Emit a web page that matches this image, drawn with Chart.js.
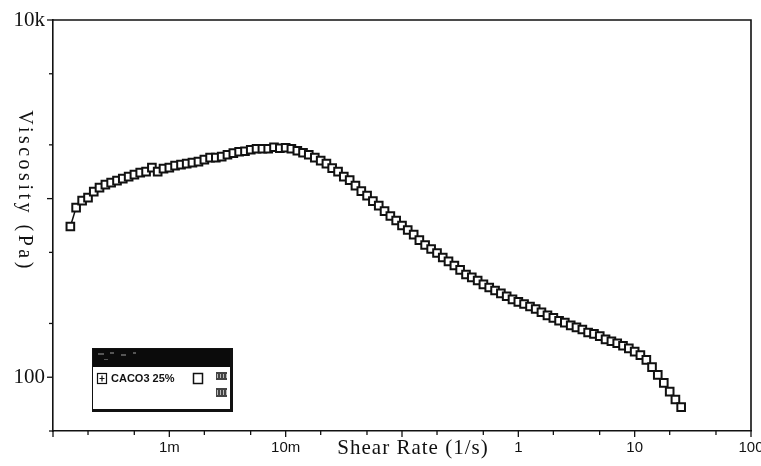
<!DOCTYPE html>
<html><head><meta charset="utf-8">
<script src="https://cdn.jsdelivr.net/npm/chart.js@4/dist/chart.umd.min.js"></script>
<style>html,body{margin:0;padding:0;background:#fff;}#wrap{width:761px;height:466px;}</style>
</head><body><div id="wrap"><canvas id="c" width="761" height="466"></canvas></div>
<script>
const shearRate = [
  0.000141,0.000158,0.000178,0.000200,0.000224,0.000251,0.000282,0.000316,0.000355,0.000398,0.000447,0.000501,0.000562,0.000631,0.000708,0.000794,0.000891,
  0.00100,0.00112,0.00126,0.00141,0.00158,0.00178,0.00200,0.00224,0.00251,0.00282,0.00316,0.00355,0.00398,0.00447,0.00501,0.00562,0.00631,0.00708,0.00794,0.00891,
  0.0100,0.0112,0.0126,0.0141,0.0158,0.0178,0.0200,0.0224,0.0251,0.0282,0.0316,0.0355,0.0398,0.0447,0.0501,0.0562,0.0631,0.0708,0.0794,0.0891,
  0.100,0.112,0.126,0.141,0.158,0.178,0.200,0.224,0.251,0.282,0.316,0.355,0.398,0.447,0.501,0.562,0.631,0.708,0.794,0.891,
  1.00,1.12,1.26,1.41,1.58,1.78,2.00,2.24,2.51,2.82,3.16,3.55,3.98,4.47,5.01,5.62,6.31,7.08,7.94,8.91,
  10.0,11.2,12.6,14.1,15.8,17.8,20.0,22.4,25.1
];
const viscosity = [
  698, 891, 975, 1013, 1094, 1152, 1198, 1229, 1261, 1293,
  1327, 1362, 1397, 1415, 1490, 1415, 1471, 1490, 1529, 1549,
  1569, 1589, 1610, 1652, 1695, 1695, 1717, 1761, 1796, 1830,
  1842, 1878, 1902, 1902, 1902, 1940, 1914, 1927, 1902, 1854,
  1807, 1761, 1695, 1631, 1569, 1481, 1415, 1327, 1269, 1182,
  1101, 1039, 968, 914, 851, 799, 754, 707, 667, 629,
  586, 550, 522, 496, 468, 445, 422, 399, 376, 362,
  348, 331, 318, 306, 295, 284, 273, 264, 257, 249,
  241, 231, 222, 215, 207, 202, 195, 190, 185, 178,
  175, 170, 163, 159, 155, 150, 145, 139, 133, 125,
  114, 103, 93, 83, 75, 68
];
const seriesName = 'CACO3 25%';
const xTickValues = [0.001, 0.01, 1, 10, 100];
const xTickText = ['1m', '10m', '1', '10', '100'];
const yTickValues = [100, 10000];
const yTickText = ['100', '10k'];
const xTitle = 'Shear Rate (1/s)';
const yTitle = 'Viscosity (Pa)';
const xRange = [0.0001, 100];
const yRange = [50, 10000];

function logTicks(min, max) {
  const out = [];
  for (let e = Math.floor(Math.log10(min)); e <= Math.ceil(Math.log10(max)); e++) {
    [1, 2, 5].forEach(m => {
      const v = m * Math.pow(10, e);
      if (v >= min * 0.999 && v <= max * 1.001) out.push({ value: v, major: m === 1 });
    });
  }
  return out;
}
function labelFor(v, vals, txt) {
  for (let i = 0; i < vals.length; i++) {
    if (Math.abs(Math.log10(v) - Math.log10(vals[i])) < 1e-6) return txt[i];
  }
  return '';
}

const ink = '#111';
const decor = {
  id: 'decor',
  afterDraw(chart) {
    const ctx = chart.ctx, a = chart.chartArea;
    const xs = chart.scales.x, ys = chart.scales.y;
    ctx.save();
    ctx.strokeStyle = ink; ctx.lineWidth = 1.6;
    ctx.beginPath();
    ctx.moveTo(a.left, a.top); ctx.lineTo(a.right, a.top); ctx.lineTo(a.right, a.bottom);
    ctx.stroke();
    ctx.lineWidth = 1.3;
    xs.ticks.forEach(t => {
      const p = xs.getPixelForValue(t.value);
      const len = t.major ? 6 : 4;
      ctx.beginPath(); ctx.moveTo(p, a.bottom); ctx.lineTo(p, a.bottom + len); ctx.stroke();
    });
    ys.ticks.forEach(t => {
      const p = ys.getPixelForValue(t.value);
      const len = t.major ? 6 : 4;
      ctx.beginPath(); ctx.moveTo(a.left, p); ctx.lineTo(a.left - len, p); ctx.stroke();
    });
    ctx.fillStyle = ink;
    ctx.font = '21px "Liberation Serif", "Times New Roman", serif';
    ctx.textAlign = 'center'; ctx.textBaseline = 'middle';
    try { ctx.letterSpacing = '1px'; } catch (e) {}
    ctx.fillText(xTitle, 413, 448);
    ctx.save();
    ctx.translate(24, 191);
    ctx.rotate(Math.PI / 2);
    ctx.font = '20px "Liberation Serif", "Times New Roman", serif';
    try { ctx.letterSpacing = '3.5px'; } catch (e) {}
    ctx.fillText(yTitle, 0, 0);
    ctx.restore();
    try { ctx.letterSpacing = '0px'; } catch (e) {}
    const L = 92, T = 348, R = 233, B = 412;
    ctx.fillStyle = '#fff'; ctx.fillRect(L, T, R - L, B - T);
    ctx.fillStyle = '#0b0b0b'; ctx.fillRect(L, T, R - L, 19);
    ctx.fillStyle = '#555';
    [[98,353,6,2],[110,352,4,2],[121,354,5,2],[133,352,3,2],[104,359,4,1]].forEach(r => ctx.fillRect(r[0], r[1], r[2], r[3]));
    ctx.strokeStyle = ink; ctx.lineWidth = 1;
    ctx.strokeRect(L + 0.5, T + 0.5, R - L - 1, B - T - 1);
    ctx.fillStyle = ink;
    ctx.fillRect(L, B - 3, R - L, 3);
    ctx.fillRect(R - 3, T, 3, B - T);
    ctx.lineWidth = 1.2;
    ctx.strokeRect(97.5, 373.5, 9, 10);
    ctx.beginPath(); ctx.moveTo(99.5, 378.5); ctx.lineTo(104.5, 378.5); ctx.moveTo(102, 375.5); ctx.lineTo(102, 381.5); ctx.stroke();
    ctx.font = 'bold 11px "Liberation Sans Narrow", "Liberation Sans", Arial, sans-serif';
    ctx.textAlign = 'left'; ctx.textBaseline = 'middle';
    ctx.fillText(chart.data.datasets[0].label, 111, 379);
    ctx.lineWidth = 1.5;
    ctx.strokeRect(193.5, 373.5, 9, 10);
    ctx.fillStyle = '#444';
    ctx.fillRect(216, 372, 11, 8);
    ctx.fillRect(216, 388, 11, 9);
    ctx.fillStyle = '#bbb';
    for (let i = 0; i < 4; i++) { ctx.fillRect(217 + i * 3, 374, 1, 4); ctx.fillRect(217 + i * 3, 390, 1, 5); }
    ctx.restore();
  }
};

new Chart(document.getElementById('c'), {
  type: 'line',
  data: {
    datasets: [{
      label: seriesName,
      data: shearRate.map((x, i) => ({ x: x, y: viscosity[i] })),
      borderColor: ink,
      borderWidth: 1.5,
      pointStyle: 'rect',
      pointRadius: 5.4,
      pointBorderWidth: 2,
      pointBorderColor: ink,
      pointBackgroundColor: '#fff',
      tension: 0,
      fill: false
    }]
  },
  options: {
    responsive: false,
    animation: false,
    devicePixelRatio: 1,
    layout: { padding: { top: 20, right: 10, left: 0, bottom: 0 } },
    plugins: { legend: { display: false }, tooltip: { enabled: false } },
    scales: {
      x: {
        type: 'logarithmic', min: xRange[0], max: xRange[1], position: 'bottom',
        grid: { display: false, drawTicks: false },
        border: { display: true, color: ink, width: 1.6 },
        afterBuildTicks: s => { s.ticks = logTicks(xRange[0], xRange[1]); },
        afterFit: s => { s.height = 35; s.paddingLeft = 0; s.paddingRight = 0; },
        ticks: {
          autoSkip: false, maxRotation: 0, minRotation: 0, padding: 8, color: ink,
          font: { family: '"Liberation Sans Narrow", "Liberation Sans", Arial, sans-serif', size: 15 },
          callback: v => labelFor(v, xTickValues, xTickText)
        }
      },
      y: {
        type: 'logarithmic', min: yRange[0], max: yRange[1], position: 'left',
        grid: { display: false, drawTicks: false },
        border: { display: true, color: ink, width: 1.6 },
        afterBuildTicks: s => { s.ticks = logTicks(yRange[0], yRange[1]); },
        afterFit: s => { s.width = 53; s.paddingTop = 0; s.paddingBottom = 0; },
        ticks: {
          autoSkip: false, padding: 8, color: ink,
          font: { family: '"Liberation Serif", "Times New Roman", serif', size: 21 },
          callback: v => labelFor(v, yTickValues, yTickText)
        }
      }
    }
  },
  plugins: [decor]
});
</script>
</body></html>
